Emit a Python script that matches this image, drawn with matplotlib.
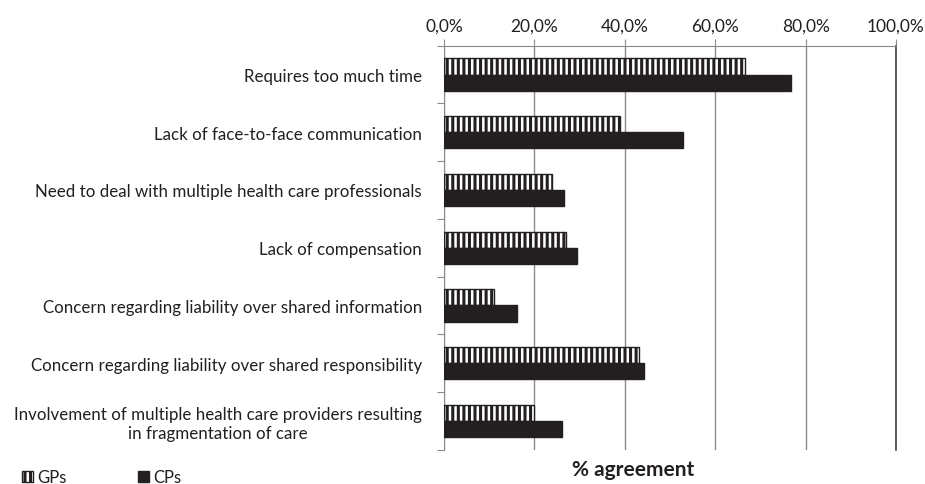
import matplotlib
matplotlib.use("Agg")
import matplotlib.pyplot as plt
import numpy as np
from matplotlib.patches import Patch
from matplotlib.ticker import FuncFormatter

categories = [
    "Requires too much time",
    "Lack of face-to-face communication",
    "Need to deal with multiple health care professionals",
    "Lack of compensation",
    "Concern regarding liability over shared information",
    "Concern regarding liability over shared responsibility",
    "Involvement of multiple health care providers resulting\nin fragmentation of care",
]
gps = [66.7, 38.9, 23.9, 26.9, 11.1, 43.2, 19.9]
cps = [76.8, 52.8, 26.6, 29.4, 16.1, 44.3, 26.2]
xticks = [0, 20, 40, 60, 80, 100]

plt.rcParams['font.family'] = ['Lato', 'DejaVu Sans']
plt.rcParams['hatch.linewidth'] = 2.2
plt.rcParams['hatch.color'] = '#231f20'

fig = plt.figure(figsize=(9.25, 4.85), dpi=100)
ax = fig.add_axes([0.48, 0.0707, 0.4886, 0.833])

n = len(categories)
y = np.arange(n)
h = 0.28
dark = '#231f20'
ax.barh(y - h / 2, gps, height=h, color='white', edgecolor=dark, hatch='|||', linewidth=1.0, zorder=3)
ax.barh(y + h / 2, cps, height=h, color=dark, edgecolor=dark, linewidth=1.0, zorder=3)

ax.set_ylim(n - 0.5, -0.5)
ax.set_xlim(0, 100)
ax.xaxis.tick_top()
ax.set_xticks(xticks)
ax.xaxis.set_major_formatter(FuncFormatter(lambda v, p: f"{v:.1f}%".replace('.', ',')))
ax.tick_params(axis='x', length=5, color='#8c8c8c', labelsize=12.5, labelcolor='#231f20', pad=4)
ax.grid(axis='x', color='#8c8c8c', linewidth=1.0, zorder=0)

ax.set_yticks(np.arange(n + 1) - 0.5, minor=False)
ax.set_yticklabels([])
ax.set_yticks(y, minor=True)
ax.set_yticklabels(categories, minor=True, ha='right', multialignment='center')
ax.tick_params(axis='y', which='major', length=5, color='#8c8c8c', direction='out')
ax.tick_params(axis='y', which='minor', length=0, labelsize=12.2, labelcolor='#231f20', pad=16)

for s in ['top', 'bottom']:
    ax.spines[s].set_color('#8c8c8c')
ax.spines['bottom'].set_visible(False)
ax.spines['left'].set_color('#8c8c8c')
ax.spines['right'].set_color('#404040')
ax.spines['right'].set_linewidth(1.2)

fig.text(633 / 925, 1 - 470 / 485, "% agreement", ha='center', va='center',
         fontsize=15, fontweight='bold', color='#231f20')

handles = [Patch(facecolor='white', edgecolor=dark, hatch='|||', label='GPs'),
           Patch(facecolor=dark, edgecolor=dark, label='CPs')]
fig.legend(handles=handles, loc='center left', bbox_to_anchor=(0.008, 1 - 478 / 485),
           ncol=2, frameon=False, fontsize=12, handlelength=0.65, handleheight=0.65,
           handletextpad=0.25, columnspacing=4.3, labelcolor='#231f20')

fig.savefig('out.png', dpi=100)
